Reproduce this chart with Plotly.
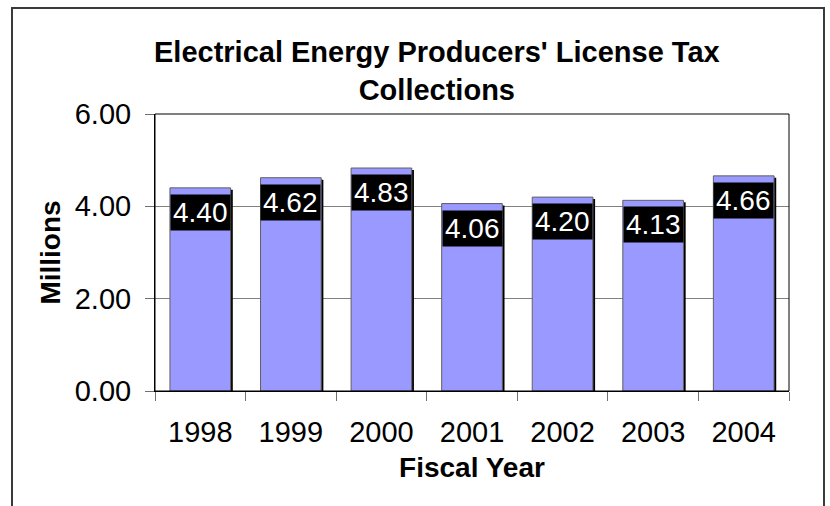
import plotly.graph_objects as go

years = ["1998", "1999", "2000", "2001", "2002", "2003", "2004"]
collections = [4.40, 4.62, 4.83, 4.06, 4.20, 4.13, 4.66]
y_ticks = [0, 2, 4, 6]
y_tick_labels = ["0.00", "2.00", "4.00", "6.00"]

W, H = 830, 506
L, R, T, B = 155, 41, 114, 115
pw, ph = W - L - R, H - T - B

def px_x(p):  # page pixel -> paper
    return (p - L) / pw

def px_y(p):
    return (H - B - p) / ph

FONT = "Liberation Sans, Arial, sans-serif"
shadow_drop = 2 / (ph / 6)  # 2 px in data units
xpos = list(range(len(years)))
boundaries = [i - 0.5 for i in range(len(years) + 1)]

fig = go.Figure()
# shadow bars
fig.add_trace(go.Bar(
    x=xpos, y=[v - shadow_drop for v in collections],
    width=0.67, offset=-0.335 + 0.024,
    marker=dict(color="black", line=dict(width=0)),
    hoverinfo="skip", showlegend=False,
))
# main bars
fig.add_trace(go.Bar(
    x=xpos, y=collections,
    width=0.67, offset=-0.335,
    marker=dict(color="#9999FF", line=dict(color="#606060", width=1)),
    showlegend=False,
))

for xi, v in zip(xpos, collections):
    fig.add_annotation(
        x=xi, y=v, xref="x", yref="y",
        text=f"{v:.2f}", showarrow=False,
        yanchor="top", yshift=-6,
        bgcolor="black", borderpad=2,
        font=dict(family=FONT, size=28, color="white"),
    )

# title
fig.add_annotation(
    x=px_x(437), y=px_y(70.5), xref="paper", yref="paper",
    text="<b>Electrical Energy Producers' License Tax<br>Collections</b>",
    showarrow=False, xanchor="center", yanchor="middle",
    font=dict(family=FONT, size=29, color="black"),
)

# plot area border
fig.add_shape(type="rect", xref="paper", yref="paper",
              x0=0, x1=1, y0=0, y1=1,
              line=dict(color="black", width=1), layer="above")
# outer chart border
fig.add_shape(type="rect", xref="paper", yref="paper",
              x0=px_x(12), x1=px_x(824), y0=px_y(530), y1=px_y(8),
              line=dict(color="#3a3a3a", width=2))

fig.update_layout(
    width=W, height=H,
    margin=dict(l=L, r=R, t=T, b=B, pad=0),
    paper_bgcolor="white", plot_bgcolor="white",
    barmode="overlay",
    font=dict(family=FONT, size=28, color="black"),
    xaxis=dict(
        range=[-0.5, len(years) - 0.5],
        tickvals=xpos, ticktext=years,
        ticks="outside", ticklen=9, tickcolor="rgba(0,0,0,0)", tickwidth=1,
        minor=dict(tickvals=boundaries, ticks="outside", ticklen=9,
                   tickcolor="#707070", tickwidth=1, showgrid=False),
        showline=True, linecolor="black", linewidth=1,
        showgrid=False, zeroline=False, ticklabelstandoff=6,
        tickfont=dict(family=FONT, size=29, color="black"),
        title=dict(text="<b>Fiscal Year</b>", standoff=10,
                   font=dict(family=FONT, size=28, color="black")),
    ),
    yaxis=dict(
        range=[0, 6], tickvals=y_ticks, ticktext=y_tick_labels,
        ticks="outside", ticklen=9, tickcolor="#707070", tickwidth=1,
        showline=True, linecolor="black", linewidth=1,
        showgrid=True, gridcolor="#808080", gridwidth=1,
        zeroline=False, ticklabelstandoff=8,
        tickfont=dict(family=FONT, size=29, color="black"),
        title=dict(text="<b>Millions</b>", standoff=5,
                   font=dict(family=FONT, size=28, color="black")),
    ),
)

fig.write_html(
    "out.html",
    config={"displayModeBar": False},
    post_script="document.body.style.margin='0';document.body.style.overflow='hidden';",
)
